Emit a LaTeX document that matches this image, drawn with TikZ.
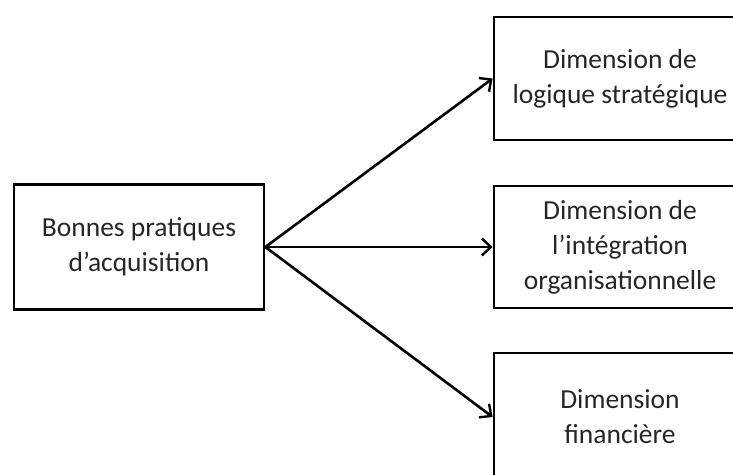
\documentclass[tikz,border=0pt]{standalone}
\usepackage{fontspec}
\setmainfont{Carlito}
\usetikzlibrary{arrows.meta}
\begin{document}
\begin{tikzpicture}[x=1pt,y=-1pt,
	boite/.style={draw,line width=2.8pt,align=center,inner sep=0pt,font=\fontsize{27.5}{35}\selectfont,text=black!85},
	fleche/.style={line width=2.6pt,-{Straight Barb[length=9pt,width=17pt,line width=2.4pt]}}]
	\useasboundingbox (0,0) rectangle (733,474);
	\node[boite,minimum width=250,minimum height=125] (bonnes) at (139,247) {Bonnes pratiques\\d’acquisition};
	\node[boite,minimum width=252,minimum height=123] (logique) at (620,78.5) {Dimension de\\logique stratégique};
	\node[boite,minimum width=252,minimum height=122] (integration) at (620,247) {Dimension de\\l’intégration\\organisationnelle};
	\node[boite,minimum width=252,minimum height=128] (financiere) at (620,417) {Dimension\\financière};
	
	\draw[fleche] (bonnes.east) -- (logique.west);
	\draw[fleche] (bonnes.east) -- (integration.west);
	\draw[fleche] (bonnes.east) -- (financiere.west);
\end{tikzpicture}
\end{document}
